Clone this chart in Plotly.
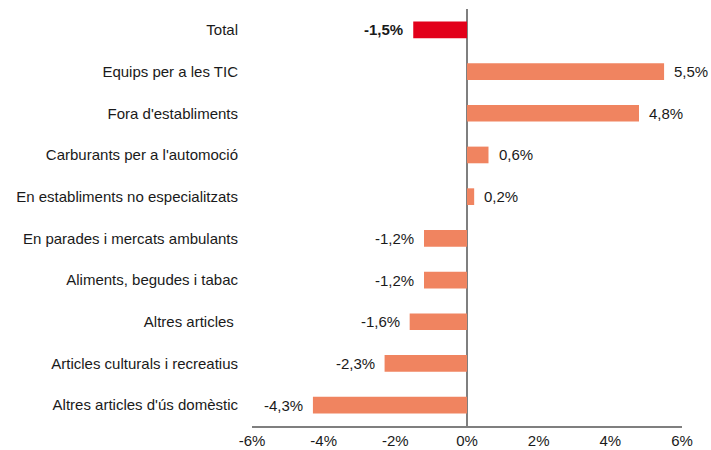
import plotly.graph_objects as go

categories = [
    "Total",
    "Equips per a les TIC",
    "Fora d'establiments",
    "Carburants per a l'automoció",
    "En establiments no especialitzats",
    "En parades i mercats ambulants",
    "Aliments, begudes i tabac",
    "Altres articles ",
    "Articles culturals i recreatius",
    "Altres articles d'ús domèstic",
]
values = [-1.5, 5.5, 4.8, 0.6, 0.2, -1.2, -1.2, -1.6, -2.3, -4.3]
tick_vals = [-6, -4, -2, 0, 2, 4, 6]
tick_text = ["-6%", "-4%", "-2%", "0%", "2%", "4%", "6%"]

RED = "#E2001A"
SALMON = "#F08460"
colors = [RED] + [SALMON] * (len(values) - 1)
FONT = "Liberation Sans, Arial, sans-serif"

def fmt(v):
    return ("%.1f" % v).replace(".", ",") + "%"

fig = go.Figure()
fig.add_trace(go.Bar(
    x=values, y=categories, orientation="h",
    marker=dict(color=colors, line=dict(width=0)),
    hoverinfo="skip",
))

annotations = []
for i, (c, v) in enumerate(zip(categories, values)):
    label = fmt(v)
    if i == 0:
        label = "<b>" + label + "</b>"
    annotations.append(dict(
        x=v, y=c, xref="x", yref="y", text=label, showarrow=False,
        xanchor="left" if v >= 0 else "right",
        xshift=8 if v >= 0 else -8,
        font=dict(family=FONT, size=15, color="#1a1a1a"),
    ))

fig.update_layout(
    width=711, height=450,
    margin=dict(l=244, r=37, t=1, b=32),
    paper_bgcolor="white", plot_bgcolor="white",
    bargap=0.6,
    showlegend=False,
    font=dict(family=FONT, size=15, color="#1a1a1a"),
    annotations=annotations,
    xaxis=dict(
        range=[-6, 6], tickvals=tick_vals, ticktext=tick_text,
        showgrid=False, zeroline=True, zerolinecolor="#7f7f7f", zerolinewidth=1.5,
        showline=True, linecolor="#7f7f7f", linewidth=1.5, ticks="",
        tickfont=dict(size=15, color="#1a1a1a"), fixedrange=True,
    ),
    yaxis=dict(
        autorange="reversed", showgrid=False, zeroline=False, showline=False,
        ticks="", ticklabelstandoff=13, automargin=False,
        tickfont=dict(size=15, color="#1a1a1a"),
    ),
)

fig.write_html(
    "out.html",
    config={"displayModeBar": False},
    post_script=(
        "document.querySelectorAll('div, svg').forEach(function(d){d.style.overflow='visible';});"
        "document.body.style.minWidth='760px';"
    ),
)
